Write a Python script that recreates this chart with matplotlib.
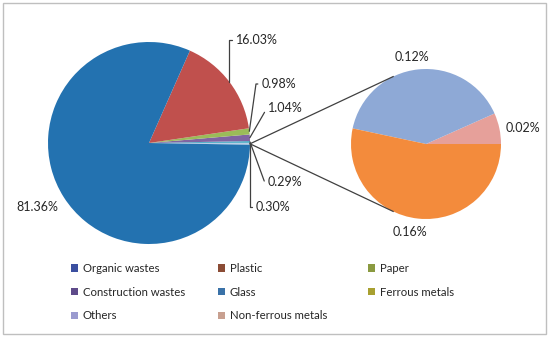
import numpy as np
import matplotlib
matplotlib.use('Agg')
import matplotlib.pyplot as plt
from matplotlib.patches import Patch, Rectangle

plt.rcParams['font.family'] = ['Lato', 'DejaVu Sans']

# main pie, counter-clockwise from the right
main_names = ['Other metals', 'Glass', 'Construction wastes', 'Paper', 'Plastic', 'Organic wastes']
main_values = [0.30, 0.29, 1.04, 0.98, 16.03, 81.36]
main_colors = ['#B9CDE5', '#4BACC6', '#8064A2', '#9BBB59', '#C0504D', '#2372B0']
main_labels = ['0.30%', '0.29%', '1.04%', '0.98%', '16.03%', '81.36%']

# breakdown of the first slice
sub_names = ['Non-ferrous metals', 'Others', 'Ferrous metals']
sub_values = [0.02, 0.12, 0.16]
sub_colors = ['#E6A09A', '#8EA9D6', '#F38B3C']
sub_labels = ['0.02%', '0.12%', '0.16%']

# legend columns, as laid out in the figure
legend_cols = [['Organic wastes', 'Construction wastes', 'Others'],
               ['Plastic', 'Glass', 'Non-ferrous metals'],
               ['Paper', 'Ferrous metals']]
legend_colors = [['#3B4FA0', '#5E4B8A', '#9A9ACF'],
                 ['#8B4C35', '#3A72A8', '#C8A090'],
                 ['#8A9A40', '#A8A030']]

txt = '#262626'

fig = plt.figure(figsize=(5.5, 3.38), dpi=100)
ax = fig.add_axes([0, 0, 1, 1])

c1, r1 = (149, 195), 101
c2, r2 = (426, 194), 75

w1, _ = ax.pie(main_values, colors=main_colors, startangle=-1, counterclock=True,
               center=c1, radius=r1, wedgeprops=dict(linewidth=0))
w2, _ = ax.pie(sub_values, colors=sub_colors, startangle=0, counterclock=True,
               center=c2, radius=r2, wedgeprops=dict(linewidth=0))

def edge(c, r, ang):
    a = np.deg2rad(ang)
    return c[0] + r * np.cos(a), c[1] + r * np.sin(a)

# lines joining the two pies
p = edge(c1, r1, (w1[0].theta1 + w1[0].theta2) / 2)
for ang in (116, 244):
    q = edge(c2, r2, ang)
    ax.plot([p[0], q[0]], [p[1], q[1]], color='#404040', lw=0.9)

# main labels: text position and leader angle
main_pos = [(256, 131), (268, 156), (268, 230), (262, 254), (236, 298), (37, 131)]
main_angB = [90, -70, 60, 82, 90, None]
for w, lab, pos, angB in zip(w1, main_labels, main_pos, main_angB):
    mid = (w.theta1 + w.theta2) / 2
    xy = edge(c1, r1, mid)
    if angB is None:
        ax.text(pos[0], pos[1], lab, ha='center', va='center', fontsize=9, color=txt)
        continue
    ax.annotate(lab, xy=xy, xytext=pos, ha='left', va='center', fontsize=9, color=txt,
                arrowprops=dict(arrowstyle='-', color='#404040', lw=0.9, relpos=(0, 0.5),
                                shrinkA=1, shrinkB=0,
                                connectionstyle='angle,angleA=0,angleB=%d,rad=0' % angB))

sub_pos = [(523, 210), (412, 281), (410, 106)]
for lab, pos in zip(sub_labels, sub_pos):
    ax.text(pos[0], pos[1], lab, ha='center', va='center', fontsize=9, color=txt)

ax.set_xlim(0, 550)
ax.set_ylim(0, 338)
ax.axis('off')

# one legend per column so the columns sit where they do in the original
col_x = [71, 218, 368]
for x, names, cols in zip(col_x, legend_cols, legend_colors):
    handles = [Patch(facecolor=c, edgecolor='none', label=n) for n, c in zip(names, cols)]
    fig.legend(handles=handles, ncol=1, loc='upper left', bbox_to_anchor=(x / 550, 0.222),
               frameon=False, fontsize=8.2, handlelength=0.62, handleheight=0.62,
               handletextpad=0.4, labelspacing=1.12,
               borderpad=0, borderaxespad=0, labelcolor=txt)

fig.patches.append(Rectangle((3 / 550, 4 / 338), 543 / 550, 331 / 338, transform=fig.transFigure,
                             fill=False, edgecolor='#BFBFBF', lw=1))

fig.savefig('out.png', dpi=100)
